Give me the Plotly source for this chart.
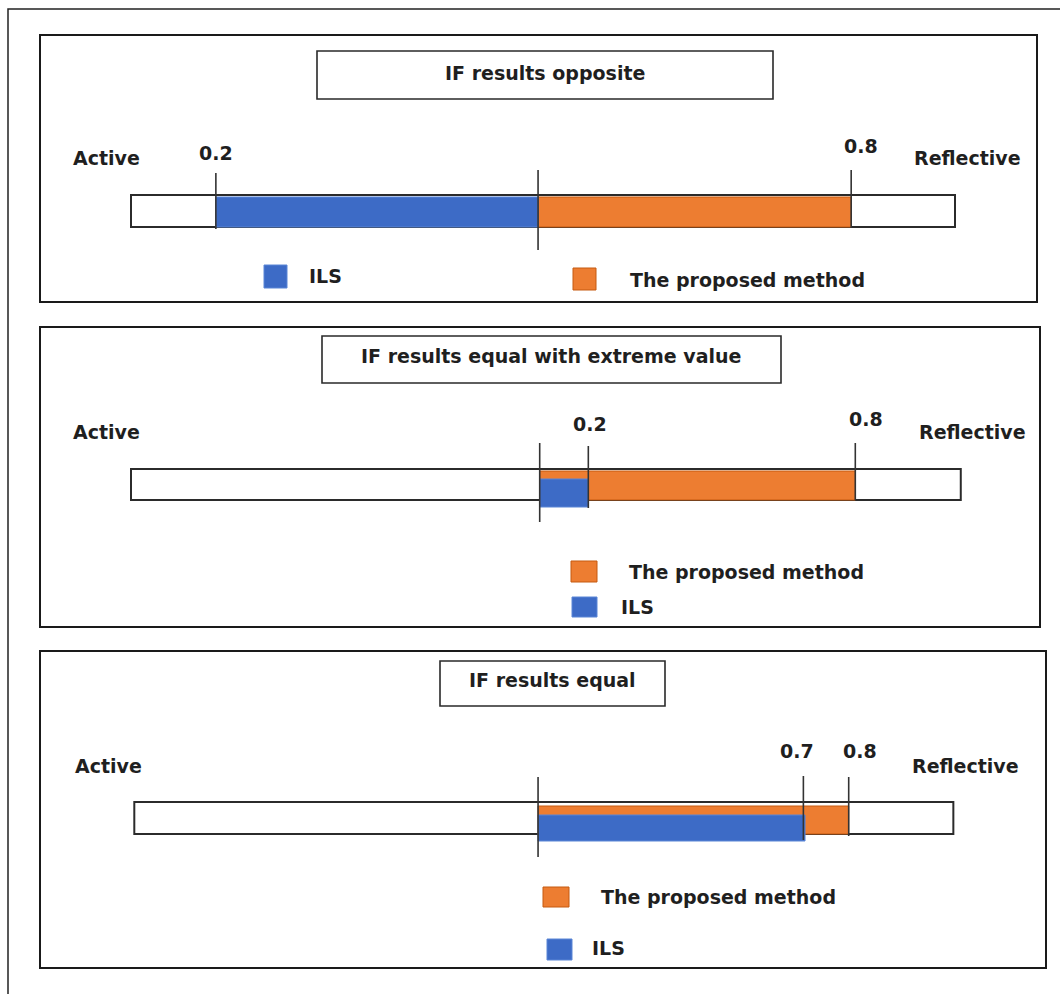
import plotly.graph_objects as go

W, H = 1060, 994

# ---------------- data (positions along each panel's scale track, 0 = left end, 1 = right end)
panel_titles = ["IF results opposite", "IF results equal with extreme value", "IF results equal"]
ils_start = [0.103, 0.496, 0.494]
ils_end = [0.494, 0.555, 0.818]
proposed_start = [0.494, 0.496, 0.494]
proposed_end = [0.874, 0.879, 0.871]
track_start = [0.000, 0.000, 0.004]
track_end = [1.000, 1.007, 0.998]
center_mark = [0.494, 0.496, 0.494]
tick_values = [[0.103, 0.874], [0.555, 0.879], [0.816, 0.871]]
tick_labels = [["0.2", "0.8"], ["0.2", "0.8"], ["0.7", "0.8"]]
left_label = "Active"
right_label = "Reflective"
series_names = ["ILS", "The proposed method"]

# ---------------- style / layout constants
BLUE = "#3D6BC6"
BLUE_EDGE = "#5B86D6"
ORANGE = "#ED7D31"
ORANGE_EDGE = "#C55A11"
TXT = "#1f1f1f"
FONT = "DejaVu Sans"

def px(x):
    return x / W

def py(y):
    return 1 - y / H

X0_PX, X1_PX = 131, 955  # pixel span of the unit track
x_range = [(0 - X0_PX) / (X1_PX - X0_PX), (W - X0_PX) / (X1_PX - X0_PX)]

panel_boxes = [(40, 35, 1037, 302), (40, 327, 1040, 627), (40, 651, 1046, 968)]
title_boxes = [(317, 51, 773, 99), (322, 336, 781, 383), (440, 661, 665, 706)]
title_pos = [(545, 73), (551, 356), (552, 680)]
active_pos = [(106, 158), (106, 432), (108, 766)]
reflective_pos = [(967, 158), (972, 432), (965, 766)]
track_y = [(195, 227), (469, 500), (802, 834)]
ils_y = [(197, 227), (479, 507), (815, 841)]
prop_y = [(197, 227), (471, 500), (806, 834)]
center_line_y = [(170, 250), (443, 522), (777, 857)]
tick_line_y = [[(173, 229), (170, 228)], [(446, 508), (443, 500)], [(776, 840), (777, 836)]]
tick_label_pos = [[(216, 153), (861, 146)], [(590, 424), (866, 419)], [(797, 751), (860, 751)]]
legend_ils = [(264, 265, 287, 288, 307, 276), (572, 597, 597, 617, 619, 607), (547, 939, 572, 960, 590, 948)]
legend_prop = [(573, 268, 596, 290, 628, 280), (571, 561, 597, 582, 627, 572), (543, 887, 569, 907, 599, 897)]

fig = go.Figure()
shapes = []
annotations = []

def ann(x, y, text, size=19, xanchor="center"):
    annotations.append(dict(x=px(x), y=py(y), xref="paper", yref="paper", text=text,
                            showarrow=False, xanchor=xanchor, yanchor="middle",
                            font=dict(family=FONT, size=size, color=TXT, weight="bold")))

# outer frame (top and left edges)
shapes.append(dict(type="path", xref="paper", yref="paper",
                   path=f"M {px(1062)} {py(9)} L {px(8)} {py(9)} L {px(8)} {py(1000)}",
                   line=dict(color="#222", width=1.5)))

for i in range(3):
    x0, y0, x1, y1 = panel_boxes[i]
    shapes.append(dict(type="rect", xref="paper", yref="paper", x0=px(x0), y0=py(y0), x1=px(x1), y1=py(y1),
                       line=dict(color="#1a1a1a", width=2), layer="below"))
    x0, y0, x1, y1 = title_boxes[i]
    shapes.append(dict(type="rect", xref="paper", yref="paper", x0=px(x0), y0=py(y0), x1=px(x1), y1=py(y1),
                       line=dict(color="#2a2a2a", width=1.6), layer="below"))
    ann(*title_pos[i], panel_titles[i], size=19)
    ann(*active_pos[i], left_label)
    ann(*reflective_pos[i], right_label)

    ty0, ty1 = track_y[i]
    shapes.append(dict(type="rect", xref="x", yref="y", x0=track_start[i], x1=track_end[i], y0=ty0, y1=ty1,
                       line=dict(color="#2b2b2b", width=2), fillcolor="white", layer="below"))

    cy0, cy1 = center_line_y[i]
    shapes.append(dict(type="line", xref="x", yref="y", x0=center_mark[i], x1=center_mark[i], y0=cy0, y1=cy1,
                       line=dict(color="#333", width=1.6)))
    for v, (ly0, ly1), (lx, lyy), lab in zip(tick_values[i], tick_line_y[i], tick_label_pos[i], tick_labels[i]):
        shapes.append(dict(type="line", xref="x", yref="y", x0=v, x1=v, y0=ly0, y1=ly1,
                           line=dict(color="#333", width=1.6)))
        ann(lx, lyy, lab)

    sx0, sy0, sx1, sy1, tx, tyy = legend_ils[i]
    shapes.append(dict(type="rect", xref="paper", yref="paper", x0=px(sx0), y0=py(sy0), x1=px(sx1), y1=py(sy1),
                       fillcolor=BLUE, line=dict(color=BLUE_EDGE, width=1)))
    ann(tx, tyy, series_names[0], xanchor="left")
    sx0, sy0, sx1, sy1, tx, tyy = legend_prop[i]
    shapes.append(dict(type="rect", xref="paper", yref="paper", x0=px(sx0), y0=py(sy0), x1=px(sx1), y1=py(sy1),
                       fillcolor=ORANGE, line=dict(color=ORANGE_EDGE, width=1)))
    ann(tx, tyy, series_names[1], xanchor="left")

fig.add_trace(go.Bar(
    orientation="h", name=series_names[1],
    base=proposed_start,
    x=[e - s for s, e in zip(proposed_start, proposed_end)],
    y=[(a + b) / 2 for a, b in prop_y],
    width=[b - a for a, b in prop_y],
    marker=dict(color=ORANGE, line=dict(color=ORANGE_EDGE, width=1)),
    showlegend=False))
fig.add_trace(go.Bar(
    orientation="h", name=series_names[0],
    base=ils_start,
    x=[e - s for s, e in zip(ils_start, ils_end)],
    y=[(a + b) / 2 for a, b in ils_y],
    width=[b - a for a, b in ils_y],
    marker=dict(color=BLUE, line=dict(color=BLUE_EDGE, width=1)),
    showlegend=False))

fig.update_layout(
    width=W, height=H, margin=dict(l=0, r=0, t=0, b=0),
    paper_bgcolor="white", plot_bgcolor="white",
    barmode="overlay",
    xaxis=dict(range=x_range, visible=False, showgrid=False, zeroline=False, domain=[0, 1]),
    yaxis=dict(range=[H, 0], visible=False, showgrid=False, zeroline=False, domain=[0, 1]),
    shapes=shapes, annotations=annotations,
)

fig.write_html("out.html", config={"displayModeBar": False},
               post_script="document.body.style.margin='0px';")
